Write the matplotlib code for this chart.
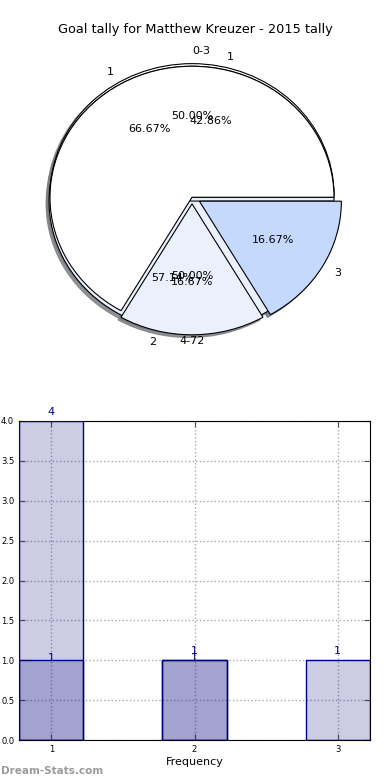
import matplotlib
matplotlib.use("Agg")
from matplotlib import pyplot as plt

title = "Goal tally for Matthew Kreuzer - 2015 tally"

# pies drawn on top of each other, as in the original
pie_ranges_labels = ["0-3", "4-72"]
pie_ranges_values = [1, 1]
pie_goals_labels = ["1", "2"]
pie_goals_values = [3, 4]
pie_freq_labels = ["1", "", "3"]
pie_freq_values = [4, 1, 1]
pie_colors = ["#ffffff", "#eaf1fd", "#c5d9fd"]

# bar part
bar_x = [1, 2, 3]
bar_first = [4, 1, 1]
bar_second = [1, 1, 0]
y_ticks = [0.0, 0.5, 1.0, 1.5, 2.0, 2.5, 3.0, 3.5, 4.0]

fig = plt.figure(figsize=(3.9, 7.8), dpi=100)

ax1 = fig.add_axes([14.5 / 390, 419.0 / 780, 355 / 390, 327.5 / 780])
wp = dict(edgecolor="black", linewidth=0.8)
tp = dict(fontsize=8)
shadow = dict(ox=-0.015, oy=-0.015, shade=0.5, alpha=0.8)
w1, t1, a1 = ax1.pie(pie_ranges_values, labels=pie_ranges_labels,
                     colors=pie_colors, autopct="%.2f%%", shadow=shadow,
                     wedgeprops=wp, textprops=tp, explode=[0.02, 0.0])
t1[0].set_ha("left")
t1[1].set_ha("center")
ax1.pie(pie_goals_values, labels=pie_goals_labels, colors=pie_colors,
        autopct="%.2f%%", shadow=shadow, wedgeprops=wp, textprops=tp,
        explode=[0.0, 0.03])
ax1.pie(pie_freq_values, labels=pie_freq_labels, colors=pie_colors,
        autopct="%.2f%%", shadow=shadow, wedgeprops=wp, textprops=tp,
        explode=[0.0, 0.05, 0.06])
ax1.set_aspect("auto")
ax1.set_xlim(-1.25, 1.25)
ax1.set_ylim(-1.25, 1.25)
ax1.axis("off")

fig.text(0.5, 1 - 30 / 780, title, ha="center", va="center", fontsize=9.3)

ax2 = fig.add_axes([19 / 390, 40 / 780, 351 / 390, 319 / 780])
w = 0.45
ax2.bar(bar_x, bar_first, width=w, color="navy", alpha=0.2,
        edgecolor="none", zorder=2)
ax2.bar(bar_x, bar_second, width=w, color="navy", alpha=0.2,
        edgecolor="none", zorder=2)
ax2.bar(bar_x, bar_first, width=w, fill=False, edgecolor="navy",
        linewidth=1, zorder=3)
ax2.bar([x for x, v in zip(bar_x, bar_second) if v > 0],
        [v for v in bar_second if v > 0], width=w, fill=False,
        edgecolor="navy", linewidth=1, zorder=3)
for x, v in zip(bar_x, bar_first):
    if v > 0:
        ax2.annotate(str(v), (x, v), xytext=(0, 3), textcoords="offset points",
                     ha="center", va="bottom", color="navy", fontsize=8,
                     annotation_clip=False)
for x, v in zip(bar_x, bar_second):
    if v > 0:
        ax2.annotate(str(v), (x, v), xytext=(0, -2), textcoords="offset points",
                     ha="center", va="bottom", color="navy", fontsize=8,
                     annotation_clip=False)
ax2.set_xlim(1 - w / 2, 3 + w / 2)
ax2.set_ylim(0, 4)
ax2.set_xticks(bar_x)
ax2.set_yticks(y_ticks)
ax2.set_yticklabels(["%.1f" % t for t in y_ticks])
ax2.tick_params(direction="in", top=True, right=True, labelsize=6,
                length=4, color="#555555")
ax2.grid(True, linestyle=":", color="#aaaaaa", linewidth=1, zorder=1)
ax2.set_axisbelow(True)
ax2.set_xlabel("Frequency", fontsize=8, labelpad=2)

fig.text(1 / 390, 9 / 780, "Dream-Stats.com", fontsize=7.5, color="#9a9a9a",
         weight="bold", ha="left", va="center")

fig.savefig("out.png", dpi=100)
